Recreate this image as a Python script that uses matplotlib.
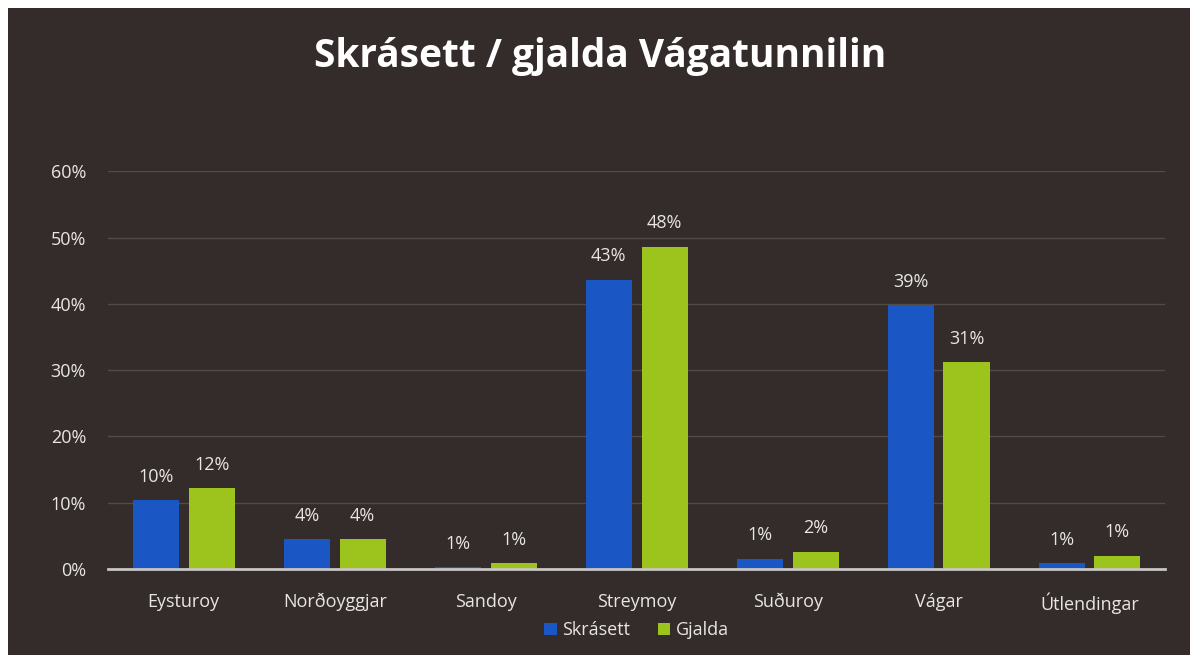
import matplotlib.pyplot as plt
from matplotlib.patches import Rectangle
import numpy as np

# data (percent)
categories = ["Eysturoy", "Norðoyggjar", "Sandoy", "Streymoy", "Suðuroy", "Vágar", "Útlendingar"]
skrasett = [10.4, 4.5, 0.3, 43.6, 1.6, 39.8, 0.9]
gjalda = [12.2, 4.5, 0.9, 48.6, 2.6, 31.2, 2.0]
skrasett_labels = ["10%", "4%", "1%", "43%", "1%", "39%", "1%"]
gjalda_labels = ["12%", "4%", "1%", "48%", "2%", "31%", "1%"]
yticks = [0, 10, 20, 30, 40, 50, 60]

bg = "#342c2a"
blue = "#1a56c4"
green = "#9cc41c"
txt = "#e8e6e2"

fig = plt.figure(figsize=(11.9, 6.61), dpi=100)
fig.patch.set_facecolor("white")
fig.patches.append(Rectangle((8 / 1190, 6 / 661), 1 - 8 / 1190, 1 - 14 / 661,
                             transform=fig.transFigure, facecolor=bg, edgecolor="none", zorder=-5))

ax = fig.add_axes([0.091, 0.139, 0.888, 0.602])
ax.set_facecolor("none")

x = np.arange(len(categories))
w = 0.305
off = 0.185
b1 = ax.bar(x - off, skrasett, w, color=blue, label="Skrásett", zorder=3)
b2 = ax.bar(x + off, gjalda, w, color=green, label="Gjalda", zorder=3)

for rect, lab in zip(b1, skrasett_labels):
    ax.text(rect.get_x() + rect.get_width() / 2, rect.get_height() + 2.2, lab,
            ha="center", va="bottom", color=txt, fontsize=13, family="Open Sans")
for rect, lab in zip(b2, gjalda_labels):
    ax.text(rect.get_x() + rect.get_width() / 2, rect.get_height() + 2.2, lab,
            ha="center", va="bottom", color=txt, fontsize=13, family="Open Sans")

ax.set_xlim(-0.5, len(categories) - 0.5)
ax.set_ylim(0, 60)
ax.set_yticks(yticks)
ax.set_yticklabels([f"{t}%" for t in yticks])
ax.set_xticks(x)
ax.set_xticklabels(categories)
ax.tick_params(axis="both", length=0, colors=txt, labelsize=13)
ax.tick_params(axis="x", pad=17)
ax.tick_params(axis="y", pad=16)
for lab in ax.get_xticklabels() + ax.get_yticklabels():
    lab.set_family("Open Sans")

ax.grid(axis="y", color="#544a46", linewidth=1, zorder=0)
ax.set_axisbelow(True)
for s in ["top", "right", "left"]:
    ax.spines[s].set_visible(False)
ax.spines["bottom"].set_color("#c8c6c4")
ax.spines["bottom"].set_linewidth(2)
ax.spines["bottom"].set_zorder(4)

leg = ax.legend(loc="upper center", bbox_to_anchor=(0.5, -0.09), ncol=2, frameon=False,
                handlelength=0.7, handleheight=0.7, handletextpad=0.3, columnspacing=1.5,
                prop={"family": "Open Sans", "size": 13})
for t in leg.get_texts():
    t.set_color(txt)

fig.text(0.504, 0.915, "Skrásett / gjalda Vágatunnilin", ha="center", va="center",
         color="white", fontsize=28, fontweight="bold", family="Open Sans")

fig.savefig("out.png", dpi=100, facecolor=fig.get_facecolor())
